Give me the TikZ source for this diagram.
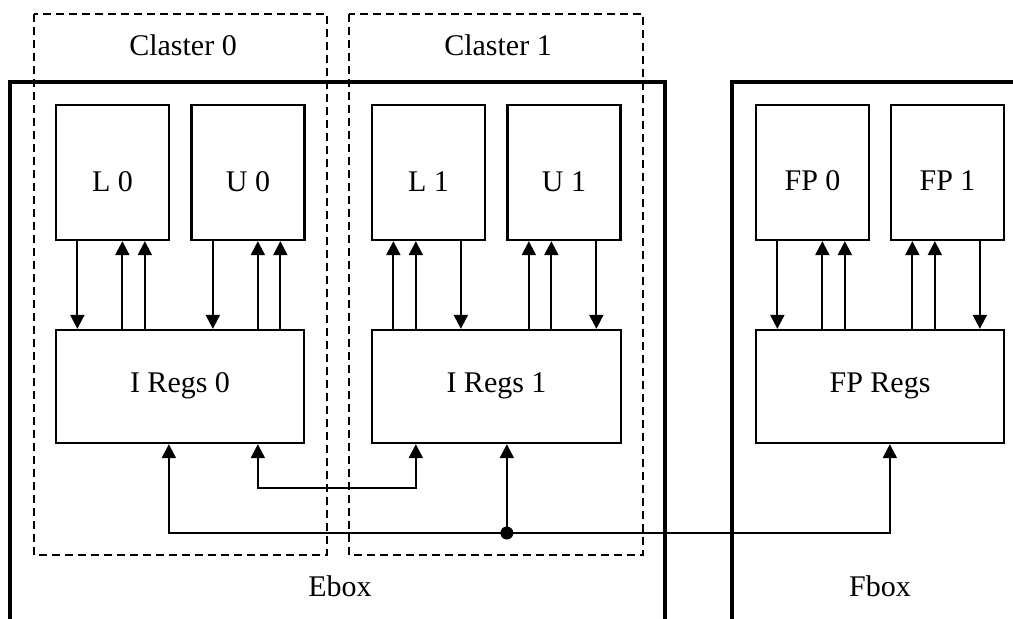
\documentclass[tikz,border=0pt]{standalone}
\usepackage{fontspec}
\setmainfont{Liberation Serif}
\usetikzlibrary{arrows.meta,calc}
\tikzset{
  mytri/.tip={Triangle[length=14pt,width=14pt]},
  blk/.style={draw, line width=2.3pt, minimum width=113pt, minimum height=135pt, inner sep=0pt},
  reg/.style={draw, line width=2.3pt, minimum height=113pt, inner sep=0pt},
  txt/.style={font=\fontsize{30}{36}\selectfont, inner sep=0pt, anchor=base},
  con/.style={line width=2.2pt, -mytri},
  dcon/.style={line width=2.2pt, mytri-mytri},
  outerbox/.style={line width=3.3pt},
  clus/.style={line width=2.2pt, dash pattern=on 8pt off 5pt},
}
\begin{document}
\begin{tikzpicture}[x=1pt,y=-1pt]
\useasboundingbox (0,0) rectangle (1013,619);
\clip (0,0) rectangle (1013,619);
\fill[white] (0,0) rectangle (1013,619);

% outer boxes (open at the bottom / right)
\draw[outerbox] (10,625) -- (10,82) -- (665,82) -- (665,625);
\draw[outerbox] (732,625) -- (732,82) -- (1020,82);

% clusters
\draw[clus] (34,14) rectangle (327,555);
\draw[clus] (349,14) rectangle (643,555);

% unit blocks
\node[blk] (L0) at (112.5,172.5) {};
\node[blk] (U0) at (248,172.5) {};
\node[blk] (L1) at (428.5,172.5) {};
\node[blk] (U1) at (564,172.5) {};
\node[blk] (FP0) at (812.5,172.5) {};
\node[blk] (FP1) at (947.5,172.5) {};

% register files
\node[reg, minimum width=248pt] (IR0) at (180,386.5) {};
\node[reg, minimum width=249pt] (IR1) at (496.5,386.5) {};
\node[reg, minimum width=248pt] (FPR) at (880,386.5) {};

% labels
\node[txt] (tC0) at (183,55) {Claster 0};
\node[txt] (tC1) at (498,55) {Claster 1};
\node[txt] (tL0) at (L0.center |- 0,191) {L 0};
\node[txt] (tU0) at (U0.center |- 0,191) {U 0};
\node[txt] (tL1) at (L1.center |- 0,191) {L 1};
\node[txt] (tU1) at (U1.center |- 0,191) {U 1};
\node[txt] (tFP0) at (FP0.center |- 0,190) {FP 0};
\node[txt] (tFP1) at (FP1.center |- 0,190) {FP 1};
\node[txt] (tIR0) at (IR0.center |- 0,392) {I Regs 0};
\node[txt] (tIR1) at (IR1.center |- 0,392) {I Regs 1};
\node[txt] (tFPR) at (FPR.center |- 0,392) {FP Regs};
\node[txt] (tE) at (340,596) {Ebox};
\node[txt] (tF) at (880,596) {Fbox};

% unit <-> register connections
\foreach \b/\r in {L0/IR0,U0/IR0,FP0/FPR} {
  \draw[con] ([xshift=22.5pt]\b.south west) -- ([xshift=22.5pt]\b.south west |- \r.north);
  \draw[con] ([xshift=67.5pt]\b.south west |- \r.north) -- ([xshift=67.5pt]\b.south west);
  \draw[con] ([xshift=90pt]\b.south west |- \r.north) -- ([xshift=90pt]\b.south west);
}
\foreach \b/\r in {L1/IR1,U1/IR1,FP1/FPR} {
  \draw[con] ([xshift=22.5pt]\b.south west |- \r.north) -- ([xshift=22.5pt]\b.south west);
  \draw[con] ([xshift=45pt]\b.south west |- \r.north) -- ([xshift=45pt]\b.south west);
  \draw[con] ([xshift=90pt]\b.south west) -- ([xshift=90pt]\b.south west |- \r.north);
}

% lower connections
\coordinate (a) at ([xshift=114pt]IR0.south west);
\coordinate (c) at ([xshift=203pt]IR0.south west);
\coordinate (d) at ([xshift=45pt]IR1.south west);
\coordinate (b) at ([xshift=135pt]FPR.south west);
\coordinate (J) at ([xshift=136pt]IR1.south west |- 0,533);
\coordinate (mid) at (0,488);

\draw[dcon] (c) -- (c |- mid) -- (d |- mid) -- (d);
\draw[dcon] (a) -- (a |- J) -- (b |- J) -- (b);
\draw[con] (J) -- (J |- IR1.south);
\fill (J) circle (6.5pt);
\end{tikzpicture}
\end{document}
